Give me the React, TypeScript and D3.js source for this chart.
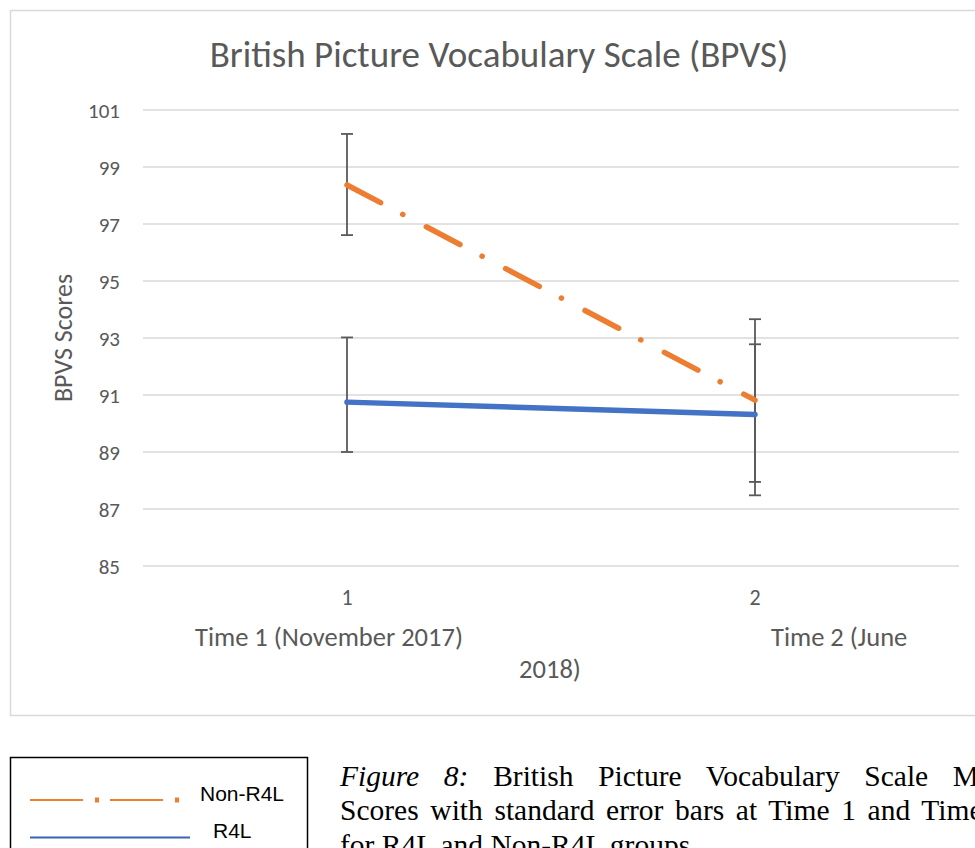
import React from "react";
import * as d3 from "d3";

const categories = ["1", "2"];
const yTicks = [85, 87, 89, 91, 93, 95, 97, 99, 101];
const nonR4LMean = [98.37, 90.82];
const nonR4LHigh = [100.16, 93.66];
const nonR4LLow = [96.61, 87.95];
const r4lMean = [90.75, 90.32];
const r4lHigh = [93.02, 92.78];
const r4lLow = [89.0, 87.48];

const title = "British Picture Vocabulary Scale (BPVS)";
const yTitle = "BPVS Scores";
const xTitleA = "Time 1 (November 2017)";
const xTitleB = "Time 2 (June";
const xTitleC = "2018)";
const legendLabels = ["Non-R4L", "R4L"];
const captionLabel = "Figure 8:";
const captionLine1 = "British Picture Vocabulary Scale Mean";
const captionLine2 = "Scores with standard error bars at Time 1 and Time 2";
const captionLine3 = "for R4L and Non-R4L groups.";

const ORANGE = "#ED7D31";
const BLUE = "#4472C4";
const GRID = "#d9d9d9";
const TXT = "#595959";
const FONT = "Carlito, Lato, 'Open Sans', sans-serif";
const SERIF = "'Liberation Serif', 'Times New Roman', serif";

export default function App() {
  const x = d3.scalePoint<string>().domain(categories).range([143, 959]).padding(0.5);
  const y = d3.scaleLinear().domain([85, 101]).range([566, 110]);
  const line = d3
    .line<number>()
    .x((_, i) => x(categories[i]) as number)
    .y((d) => y(d));

  const errBars = (hi: number[], lo: number[], key: string) =>
    categories.map((c, i) => {
      const cx = x(c) as number;
      return (
        <g key={key + i} stroke="#5a5a5a" strokeWidth={1.8}>
          <line x1={cx} x2={cx} y1={y(hi[i])} y2={y(lo[i])} />
          <line x1={cx - 6} x2={cx + 6} y1={y(hi[i])} y2={y(hi[i])} />
          <line x1={cx - 6} x2={cx + 6} y1={y(lo[i])} y2={y(lo[i])} />
        </g>
      );
    });

  return (
    <svg
      width={975}
      height={848}
      style={{ position: "absolute", left: 0, top: 0, background: "#fff" }}
    >
      <rect x={0} y={0} width={975} height={848} fill="#fff" />
      <rect x={10.5} y={10.5} width={1000} height={705} fill="#fff" stroke={GRID} strokeWidth={1.5} />
      <text x={499} y={67} textAnchor="middle" fontFamily={FONT} fontSize={37} fill={TXT}>
        {title}
      </text>
      {yTicks.map((t) => (
        <g key={t}>
          <line x1={143} x2={959} y1={y(t)} y2={y(t)} stroke={GRID} strokeWidth={1.5} />
          <text x={120} y={y(t)} dy="0.36em" textAnchor="end" fontFamily={FONT} fontSize={21} fill={TXT}>
            {t}
          </text>
        </g>
      ))}
      <text
        transform={`translate(72,${338}) rotate(-90)`}
        textAnchor="middle"
        fontFamily={FONT}
        fontSize={26}
        fill={TXT}
      >
        {yTitle}
      </text>
      {categories.map((c) => (
        <text key={c} x={x(c)} y={605} textAnchor="middle" fontFamily={FONT} fontSize={22} fill={TXT}>
          {c}
        </text>
      ))}
      <text x={195} y={646} fontFamily={FONT} fontSize={26.5} fill={TXT}>{xTitleA}</text>
      <text x={771} y={646} fontFamily={FONT} fontSize={26.5} fill={TXT}>{xTitleB}</text>
      <text x={550} y={678} textAnchor="middle" fontFamily={FONT} fontSize={26.5} fill={TXT}>{xTitleC}</text>

      {errBars(nonR4LHigh, nonR4LLow, "n")}
      {errBars(r4lHigh, r4lLow, "r")}
      <path d={line(r4lMean) || ""} fill="none" stroke={BLUE} strokeWidth={5.5} strokeLinecap="round" />
      <path
        d={line(nonR4LMean) || ""}
        fill="none"
        stroke={ORANGE}
        strokeWidth={5.5}
        strokeLinecap="round"
        strokeDasharray="38,25,0.1,26.6"
      />

      {/* legend */}
      <rect x={10.5} y={757.5} width={297} height={120} fill="#fff" stroke="#000" strokeWidth={1.5} />
      <line x1={30} x2={177} y1={800} y2={800} stroke={ORANGE} strokeWidth={2} strokeDasharray="53,27" />
      {[0, 1].map((k) => (
        <rect key={k} x={95 + k * 80} y={797.5} width={4} height={5} fill={ORANGE} />
      ))}
      <line x1={30} x2={190} y1={837.5} y2={837.5} stroke="#3a64b0" strokeWidth={2} />
      <text x={200} y={801} fontFamily="'Liberation Sans', Arial, sans-serif" fontSize={21} fill="#000">
        {legendLabels[0]}
      </text>
      <text x={213} y={838} fontFamily="'Liberation Sans', Arial, sans-serif" fontSize={21} fill="#000">
        {legendLabels[1]}
      </text>

      {/* caption */}
      <g fontFamily={SERIF} fontSize={29.5} fill="#000">
        <text x={340} y={786} wordSpacing={17.3}>
          <tspan fontStyle="italic">{captionLabel}</tspan> {captionLine1}
        </text>
        <text x={340} y={820} wordSpacing={4.3}>
          {captionLine2}
        </text>
        <text x={340} y={855}>
          {captionLine3}
        </text>
      </g>
    </svg>
  );
}
